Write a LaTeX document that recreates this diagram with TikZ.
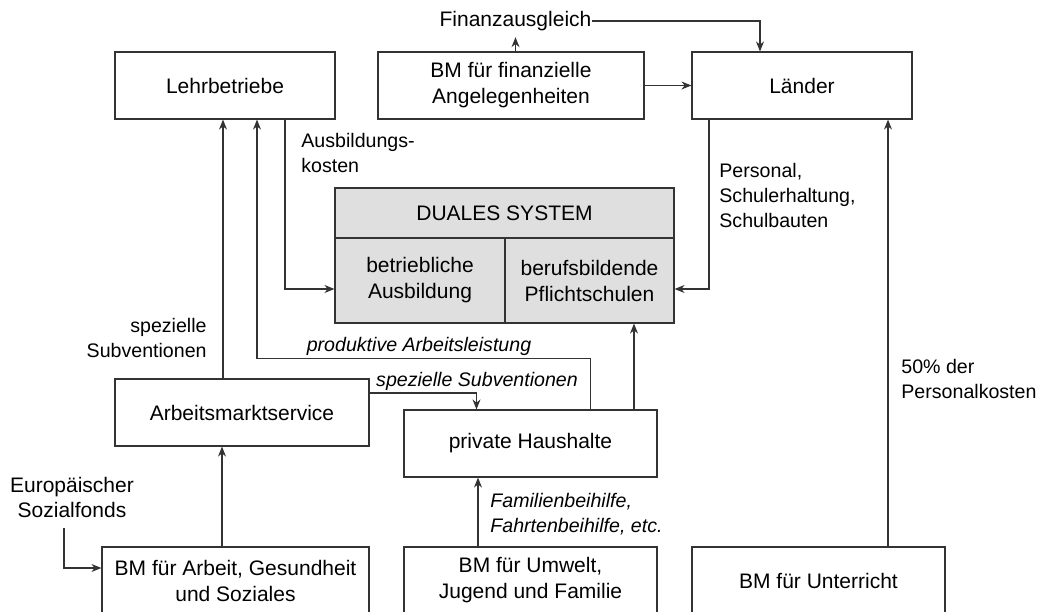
\documentclass[tikz,border=0pt]{standalone}
\usepackage{fontspec}
\setmainfont{Liberation Sans}
\usetikzlibrary{arrows.meta}

\begin{document}
\begin{tikzpicture}[x=0.5pt,y=0.5pt]
 \tikzstyle{box} = [draw=black!80, line width=0.6pt, minimum height=33.5pt, align=center, inner sep=0pt, font=\fontsize{10.5}{13}\selectfont]
 \tikzstyle{grey} = [box, fill=gray!25]
 \tikzstyle{lab} = [inner sep=0pt, font=\fontsize{9.8}{12.5}\selectfont]
 \tikzstyle{big} = [inner sep=0pt, font=\fontsize{10.5}{12.5}\selectfont]
 \tikzstyle{ital} = [inner sep=0pt, font=\fontsize{9.8}{12.5}\selectfont\itshape]
 \tikzstyle{arr} = [draw=black!80, line width=0.6pt, -{Stealth[length=5pt,width=4pt]}]
 \useasboundingbox (0,0) rectangle (1039,-611);
 \draw
 (225,-85.5) node[box, minimum width=110pt] (Lehr) {Lehrbetriebe}
 (Lehr) ++(286,0) node[box, minimum width=133pt] (BMF) {BM für finanzielle\\Angelegenheiten}
 (BMF) ++(291,0) node[box, minimum width=110pt] (Laender) {Länder}
 (BMF) ++(-6.5,-127.5) node[grey, minimum width=169.5pt, minimum height=25pt] (Duales) {DUALES SYSTEM}
 (Duales) ++(-84.5,-67.5) node[grey, minimum width=85pt, minimum height=42.5pt] (Betr) {betriebliche\\Ausbildung}
 (Betr) ++(169.5,0) node[grey, minimum width=84.5pt, minimum height=42.5pt] (Beruf) {berufsbildende\\Pflichtschulen}
 (Lehr) ++(17,-327) node[box, minimum width=127pt] (AMS) {Arbeitsmarktservice}
 (AMS) ++(288.5,-31) node[box, minimum width=126.5pt] (Haus) {private Haushalte}
 (AMS) ++(-6.5,-168) node[box, minimum width=133.5pt] (BMA) {BM für Arbeit, Gesundheit\\und Soziales}
 (Haus) ++(0,-137) node[box, minimum width=126.5pt] (BMU) {BM für Umwelt,\\Jugend und Familie}
 (BMU) ++(288,0) node[box, minimum width=126.5pt] (BMUnt) {BM für Unterricht}
 ;
 % labels
 \node[big] (Fin) at (515.5,-21) {Finanzausgleich};
 \node[big, align=center] (ESF) at (72,-497) {Europäischer\\Sozialfonds};
 \node[lab, align=left, anchor=west] (AK) at (301,-152.5) {Ausbildungs-\\kosten};
 \node[lab, align=left, anchor=west] (PS) at (719,-195) {Personal,\\Schulerhaltung,\\Schulbauten};
 \node[lab, align=right, anchor=east] (SS) at (207,-338) {spezielle\\Subventionen};
 \node[lab, align=left, anchor=west] (PK) at (901,-378.5) {50\% der\\Personalkosten};
 \node[ital, align=left, anchor=west] (FB) at (490,-514) {Familienbeihilfe,\\Fahrtenbeihilfe, etc.};
 \node[ital] (PA) at (419,-346) {produktive Arbeitsleistung};
 \node[ital] (SU) at (477,-381) {spezielle Subventionen};
 % flows
 \path [arr] (BMF.north -| Fin) -- ([yshift=-3pt]Fin.south);
 \path [arr] (Fin.east) -| ([xshift=-21pt]Laender.north);
 \path [arr] (BMF) -- (Laender);
 \path [arr] ([xshift=30pt]Lehr.south) |- ([yshift=-4.25pt]Betr.west);
 \path [arr] ([xshift=-46.5pt]Laender.south) |- ([yshift=-4.25pt]Beruf.east);
 \path [arr] ([xshift=-9.5pt]AMS.north) -- ([xshift=-9.5pt]AMS.north |- Lehr.south);
 \path [arr] ([xshift=30pt]Haus.north) -- ++(0,51) -| ([xshift=16pt]Lehr.south);
 \path [arr] ([yshift=9.75pt]AMS.east) -| ([xshift=-27pt]Haus.north);
 \path [arr] ([xshift=51.75pt]Haus.north) -- ([xshift=51.75pt]Haus.north |- Beruf.south);
 \path [arr] ([xshift=-26.25pt]BMU.north) -- ([xshift=-26.25pt]BMU.north |- Haus.south);
 \path [arr] ([xshift=-6.75pt]BMA.north) -- ([xshift=-6.75pt]BMA.north |- AMS.south);
 \path [arr] ([xshift=-4pt,yshift=-5pt]ESF.south) |- ([yshift=6.25pt]BMA.west);
 \path [arr] ([xshift=34.75pt]BMUnt.north) -- ([xshift=34.75pt]BMUnt.north |- Laender.south);
\end{tikzpicture}
\end{document}
